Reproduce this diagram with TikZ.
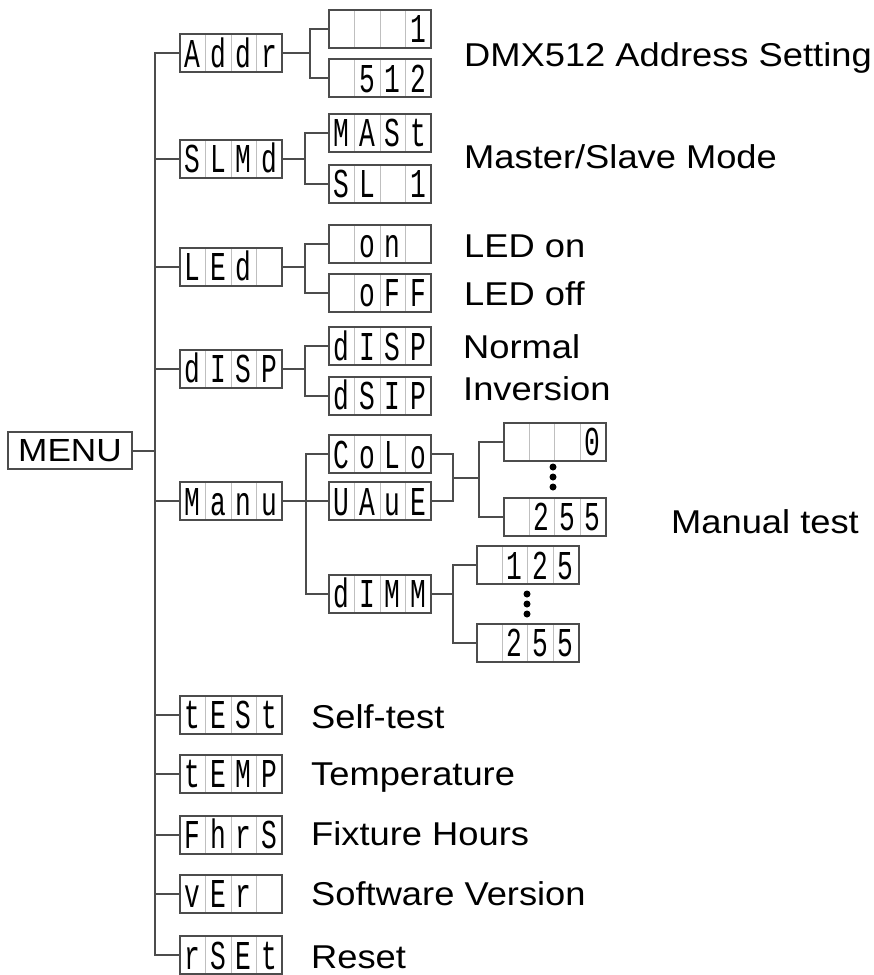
\documentclass[tikz,border=0pt]{standalone}
\usepackage{fontspec}
\usepackage{tikz}
\usetikzlibrary{shapes}
\newfontfamily\lblfont[FakeStretch=1.1]{Liberation Sans}
\newfontfamily\segfont[FakeStretch=0.64]{Liberation Mono}
\newcommand{\segcell}[1]{\makebox[24.5bp]{\rule[-4.4bp]{0pt}{37bp}#1}}
\newcommand{\segtext}[4]{\segcell{#1}\nodepart{two}\segcell{#2}\nodepart{three}\segcell{#3}\nodepart{four}\segcell{#4}}

\begin{document}
\begin{tikzpicture}[x=1bp,y=-1bp,
  seg/.style={rectangle split,rectangle split horizontal,rectangle split parts=4,draw=black!25,line width=1bp,inner sep=0pt,font=\segfont\fontsize{41bp}{41bp}\selectfont},
  rim/.style={draw=black!70,line width=2bp},
  wire/.style={draw=black!70,line width=2bp},
  lbl/.style={anchor=base west,inner sep=0pt,font=\lblfont\fontsize{33bp}{40bp}\selectfont}]
\useasboundingbox (0,0) rectangle (874,975);

\node (MENU) at (70,450.5)[draw=black!70,line width=2bp,minimum width=124bp,minimum height=37bp,inner sep=0pt,font=\lblfont\fontsize{32bp}{40bp}\selectfont] {MENU};

% first level
\node (Addr) at (231,53)[seg] {\segtext{A}{d}{d}{r}};
\node (SLMd) at (231,158.5)[seg] {\segtext{S}{L}{M}{d}};
\node (LEd) at (231,266.5)[seg] {\segtext{L}{E}{d}{}};
\node (dISP) at (231,368.5)[seg] {\segtext{d}{I}{S}{P}};
\node (MAnu) at (231,501)[seg] {\segtext{M}{a}{n}{u}};
\node (tESt) at (231,714.5)[seg] {\segtext{t}{E}{S}{t}};
\node (tEMP) at (231,773.5)[seg] {\segtext{t}{E}{M}{P}};
\node (FhrS) at (231,834.5)[seg] {\segtext{F}{h}{r}{S}};
\node (vEr) at (231,893.5)[seg] {\segtext{v}{E}{r}{}};
\node (rSEt) at (231,955)[seg] {\segtext{r}{S}{E}{t}};

% second level
\node (A1) at (380,28.5)[seg] {\segtext{}{}{}{1}};
\node (A512) at (380,78)[seg] {\segtext{}{5}{1}{2}};
\node (MASt) at (380,132.5)[seg] {\segtext{M}{A}{S}{t}};
\node (SL1) at (380,183.5)[seg] {\segtext{S}{L}{}{1}};
\node (LEDon) at (380,243.5)[seg] {\segtext{}{o}{n}{}};
\node (LEDoff) at (380,292.5)[seg] {\segtext{}{o}{F}{F}};
\node (Norm) at (380,346)[seg] {\segtext{d}{I}{S}{P}};
\node (Inv) at (380,395.5)[seg] {\segtext{d}{S}{I}{P}};
\node (CoLo) at (380,454)[seg] {\segtext{C}{o}{L}{o}};
\node (VAuE) at (380,501)[seg] {\segtext{U}{A}{u}{E}};
\node (dIMM) at (380,593.5)[seg] {\segtext{d}{I}{M}{M}};

% values
\node (C0) at (554.5,441.5)[seg] {\segtext{}{}{}{0}};
\node (C255) at (554.5,516.5)[seg] {\segtext{}{2}{5}{5}};
\node (D125) at (527.5,565)[seg] {\segtext{}{1}{2}{5}};
\node (D255) at (527.5,642.5)[seg] {\segtext{}{2}{5}{5}};

\foreach \n in {Addr,SLMd,LEd,dISP,MAnu,tESt,tEMP,FhrS,vEr,rSEt,A1,A512,MASt,SL1,LEDon,LEDoff,Norm,Inv,CoLo,VAuE,dIMM,C0,C255,D125,D255}
  \draw[rim] (\n.north west) rectangle (\n.south east);

% wires
\coordinate (bus) at (155,450.5);
\draw[wire] (MENU) -- (bus);
\foreach \n in {Addr,SLMd,LEd,dISP,MAnu,tESt,tEMP,FhrS,vEr,rSEt}
  \draw[wire] (bus) |- (\n.west);

\coordinate (jAddr) at (310,53);
\draw[wire] (Addr) -- (jAddr) |- (A1.west);
\draw[wire] (jAddr) |- (A512.west);
\coordinate (jSLMd) at (305,158.5);
\draw[wire] (SLMd) -- (jSLMd) |- (MASt.west);
\draw[wire] (jSLMd) |- (SL1.west);
\coordinate (jLEd) at (305,266.5);
\draw[wire] (LEd) -- (jLEd) |- (LEDon.west);
\draw[wire] (jLEd) |- (LEDoff.west);
\coordinate (jdISP) at (305,368.5);
\draw[wire] (dISP) -- (jdISP) |- (Norm.west);
\draw[wire] (jdISP) |- (Inv.west);
\coordinate (jMAnu) at (306,501);
\draw[wire] (MAnu) -- (jMAnu) |- (CoLo.west);
\draw[wire] (jMAnu) -- (VAuE);
\draw[wire] (jMAnu) |- (dIMM.west);

\coordinate (jCV) at (453,477.5);
\coordinate (jV) at (479,477.5);
\draw[wire] (CoLo.east) -| (jCV) |- (VAuE.east);
\draw[wire] (jCV) -- (jV) |- (C0.west);
\draw[wire] (jV) |- (C255.west);
\coordinate (jD) at (453,593.5);
\draw[wire] (dIMM) -- (jD) |- (D125.west);
\draw[wire] (jD) |- (D255.west);

% dots
\foreach \y in {467,477,487} \fill (553,\y) circle (3.5bp);
\foreach \y in {594,604,614} \fill (527,\y) circle (3.5bp);

% labels
\node (tAddr) at (464,66)[lbl] {DMX512 Address Setting};
\node (tSLMd) at (464,168)[lbl] {Master/Slave Mode};
\node (tOn) at (464,257)[lbl] {LED on};
\node (tOff) at (464,305)[lbl] {LED off};
\node (tNorm) at (463,358)[lbl] {Normal};
\node (tInv) at (463,400)[lbl] {Inversion};
\node (tMAnu) at (671,533)[lbl] {Manual test};
\node (ttESt) at (311,728)[lbl] {Self-test};
\node (ttEMP) at (311,785)[lbl] {Temperature};
\node (tFhrS) at (311,845)[lbl] {Fixture Hours};
\node (tvEr) at (311,905)[lbl] {Software Version};
\node (trSEt) at (311,968)[lbl] {Reset};
\end{tikzpicture}
\end{document}
